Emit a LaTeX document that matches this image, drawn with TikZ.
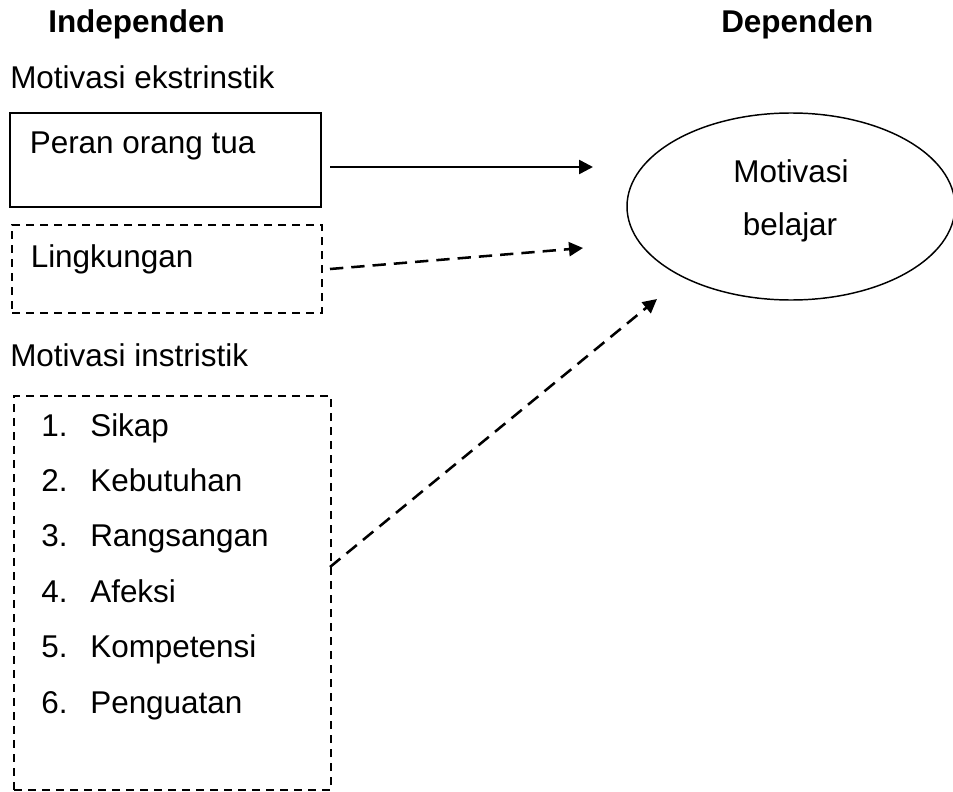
\documentclass[tikz,border=0pt]{standalone}
\usepackage{fontspec}
\setmainfont{Liberation Sans}
\usetikzlibrary{arrows.meta,shapes.geometric}

\tikzset{
  txt/.style={anchor=base west,inner sep=0pt},
  solidbox/.style={draw,line width=1pt,inner sep=0pt},
  dashbox/.style={draw,line width=1pt,inner sep=0pt,dash pattern=on 6pt off 4.5pt},
  arr/.style={line width=1.9pt,-{Triangle[length=10.5pt,width=10.5pt]}},
  darr/.style={arr,dash pattern=on 10pt off 6pt}
}

\begin{document}
\begin{tikzpicture}[x=0.75pt,y=0.75pt,yscale=-1,xscale=1,every node/.style={font=\fontsize{23.6}{28}\selectfont}]
%set diagram left start at 0, and has height of 792
\useasboundingbox (0,0) rectangle (953,792);

%Shape: Rectangle [id:peran]
\node [solidbox,minimum width=311*0.75pt,minimum height=94*0.75pt] (peran) at (165.5,160) {};
%Shape: Rectangle [id:lingk]
\node [dashbox,minimum width=310*0.75pt,minimum height=88*0.75pt] (lingk) at (167,269) {};
%Shape: Rectangle [id:daftar]
\node [dashbox,minimum width=317*0.75pt,minimum height=394*0.75pt] (daftar) at (172.5,593) {};
%Shape: Ellipse [id:belajar]
\node [draw,ellipse,line width=1.1pt,inner sep=0pt,minimum width=328*0.75pt,minimum height=187*0.75pt] (belajar) at (791,206.5) {};

%Straight Lines [id:a1]
\coordinate (s1) at (330,167);
\coordinate (t1) at (593,167);
\draw [arr] (s1) -- (t1) ;
%Straight Lines [id:a2]
\coordinate (s2) at (330,269);
\coordinate (t2) at (583,248);
\draw [darr] (s2) -- (t2) ;
%Straight Lines [id:a3]
\coordinate (s3) at (330,567);
\coordinate (t3) at (657,299);
\draw [darr] (s3) -- (t3) ;

% Text Node
\node [txt] (indep) at (48,33) {\bfseries Independen};
% Text Node
\node [txt] (dep) at (721,33) {\bfseries Dependen};
% Text Node
\node [txt] (ekstr) at (10,89) {Motivasi ekstrinstik};
% Text Node
\node [txt] (peranlbl) at (29.5,153) {Peran orang tua};
% Text Node
\node [txt] (lingklbl) at (30.5,267) {Lingkungan};
% Text Node
\node [txt] (instr) at (10,366) {Motivasi instristik};
% Text Node
\node [anchor=base,inner sep=0pt] (mot) at (791,182) {Motivasi};
% Text Node
\node [anchor=base,inner sep=0pt] (bel) at (790,235) {belajar};

% list items
\foreach \i/\t in {1/Sikap,2/Kebutuhan,3/Rangsangan,4/Afeksi,5/Kompetensi,6/Penguatan}{
  \node [txt] (no\i) at (41,{436+55.4*(\i-1)}) {\i.};
  \node [txt] (item\i) at (90,{436+55.4*(\i-1)}) {\t};
}

\end{tikzpicture}
\end{document}
